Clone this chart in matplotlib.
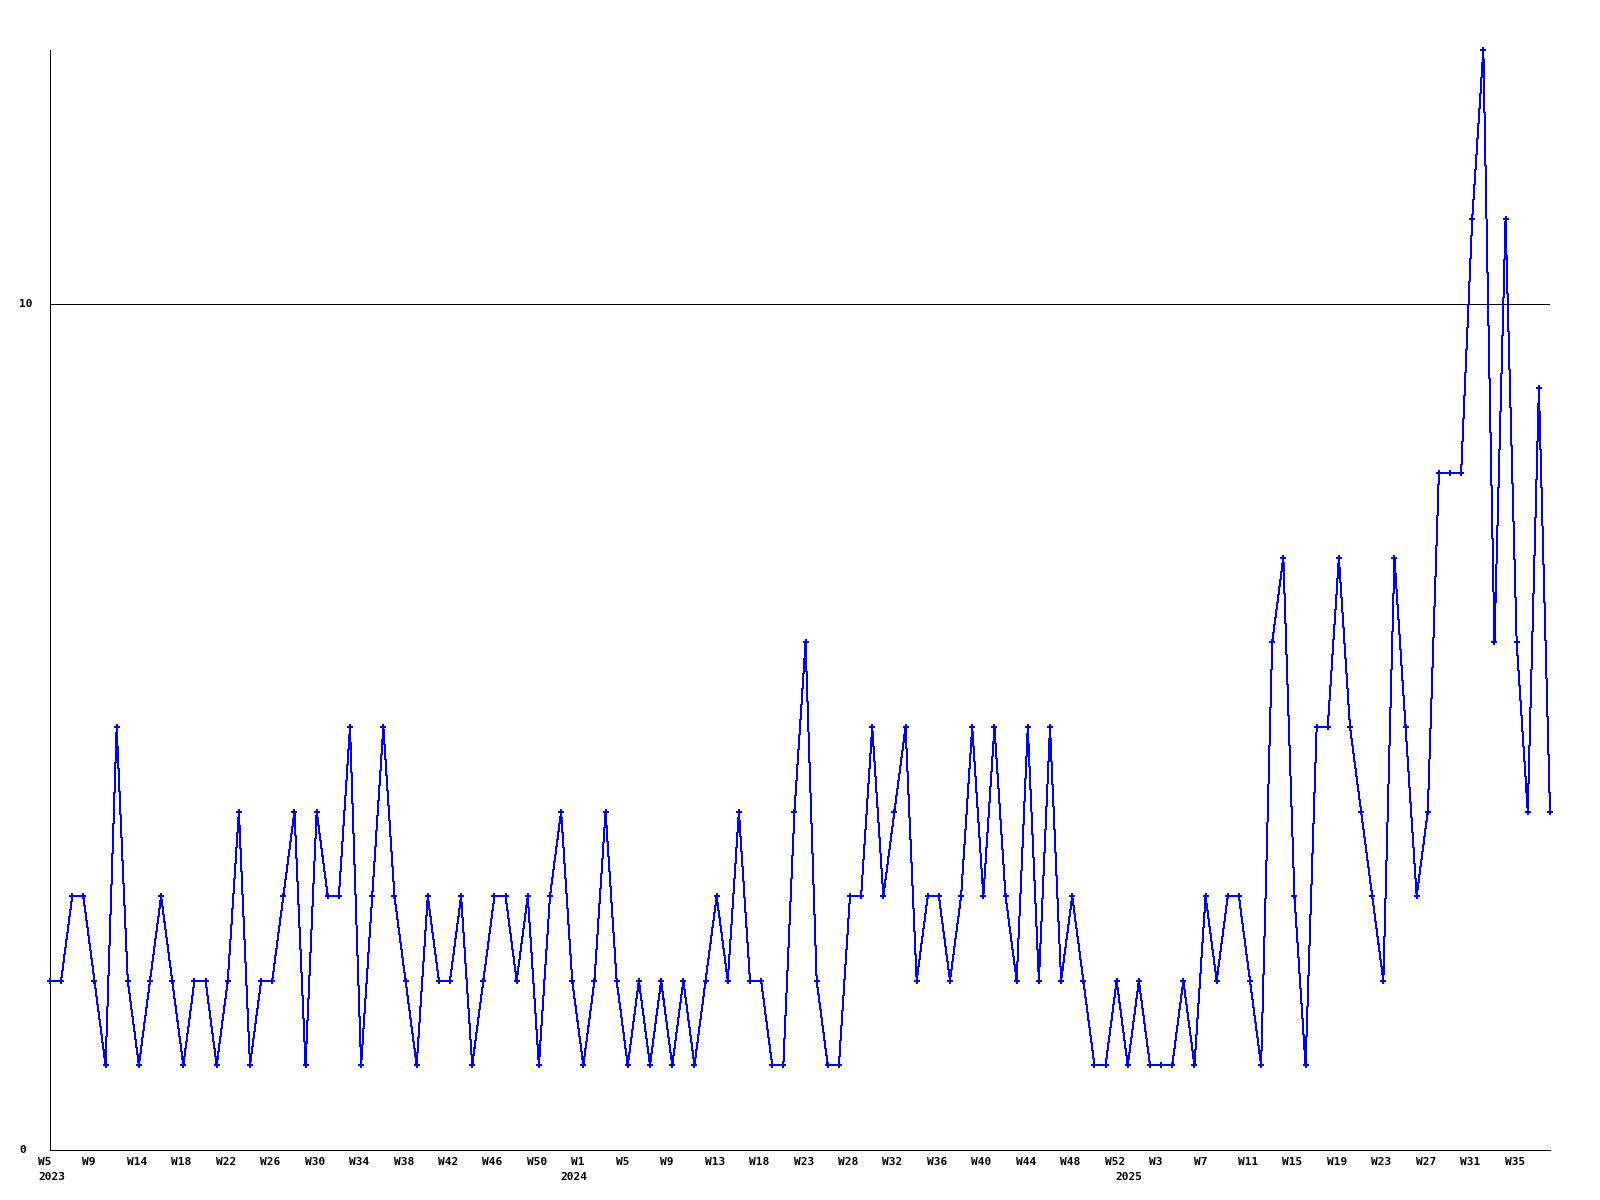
import numpy as np
import matplotlib.pyplot as plt

# weekly counts, 2023 W5 .. 2025 W38
values = [2, 2, 3, 3, 2, 1, 5, 2, 1, 2, 3, 2, 1, 2, 2, 1, 2, 4, 1, 2,
          2, 3, 4, 1, 4, 3, 3, 5, 1, 3, 5, 3, 2, 1, 3, 2, 2, 3, 1, 2,
          3, 3, 2, 3, 1, 3, 4, 2, 1, 2, 4, 2, 1, 2, 1, 2, 1, 2, 1, 2,
          3, 2, 4, 2, 2, 1, 1, 4, 6, 2, 1, 1, 3, 3, 5, 3, 4, 5, 2, 3,
          3, 2, 3, 5, 3, 5, 3, 2, 5, 2, 5, 2, 3, 2, 1, 1, 2, 1, 2, 1,
          1, 1, 2, 1, 3, 2, 3, 3, 2, 1, 6, 7, 3, 1, 5, 5, 7, 5, 4, 3,
          2, 7, 5, 3, 4, 8, 8, 8, 11, 13, 6, 11, 6, 4, 9, 4]

# one label every 4 points
week_labels = ["W5", "W9", "W14", "W18", "W22", "W26", "W30", "W34", "W38",
               "W42", "W46", "W50",
               "W1", "W5", "W9", "W13", "W18", "W23", "W28", "W32", "W36",
               "W40", "W44", "W48", "W52",
               "W3", "W7", "W11", "W15", "W19", "W23", "W27", "W31", "W35"]
years = ["2023", "2024", "2025"]
year_start = [0, 47, 97]
y_labels = [0, 10]

font = dict(family="DejaVu Sans Mono", weight="bold", size=8)
px = 0.72  # one pixel at 100 dpi

fig = plt.figure(figsize=(16, 12), dpi=100)
ax = fig.add_axes([50 / 1600, 50 / 1200, 1500 / 1600, 1100 / 1200])

x = np.arange(len(values))
ax.axhline(10, color="black", lw=px, zorder=1, antialiased=False)
ax.plot(x, values, color="#0000ff", lw=px, marker="P", ms=4, mew=0,
        zorder=3, clip_on=False, antialiased=False)

ax.set_xlim(0, len(values) - 1)
ax.set_ylim(0, 13)
ax.set_xticks([])
ax.set_yticks([])
for s in ["top", "right"]:
    ax.spines[s].set_visible(False)
for s in ["left", "bottom"]:
    ax.spines[s].set_linewidth(px)
    ax.spines[s].set_antialiased(False)

for k, lab in enumerate(week_labels):
    ax.annotate(lab, xy=(4 * k, 0), xycoords=("data", "axes fraction"),
                xytext=(-12, -12), textcoords="offset pixels",
                ha="left", va="center", **font)

for yr, i in zip(years, year_start):
    ax.annotate(yr, xy=(i, 0), xycoords=("data", "axes fraction"),
                xytext=(-12, -27), textcoords="offset pixels",
                ha="left", va="center", **font)

for v in y_labels:
    ax.annotate(str(v), xy=(0, v), xycoords=("axes fraction", "data"),
                xytext=(-31, 0), textcoords="offset pixels",
                ha="left", va="center", **font)

fig.savefig("out.png", dpi=100)
